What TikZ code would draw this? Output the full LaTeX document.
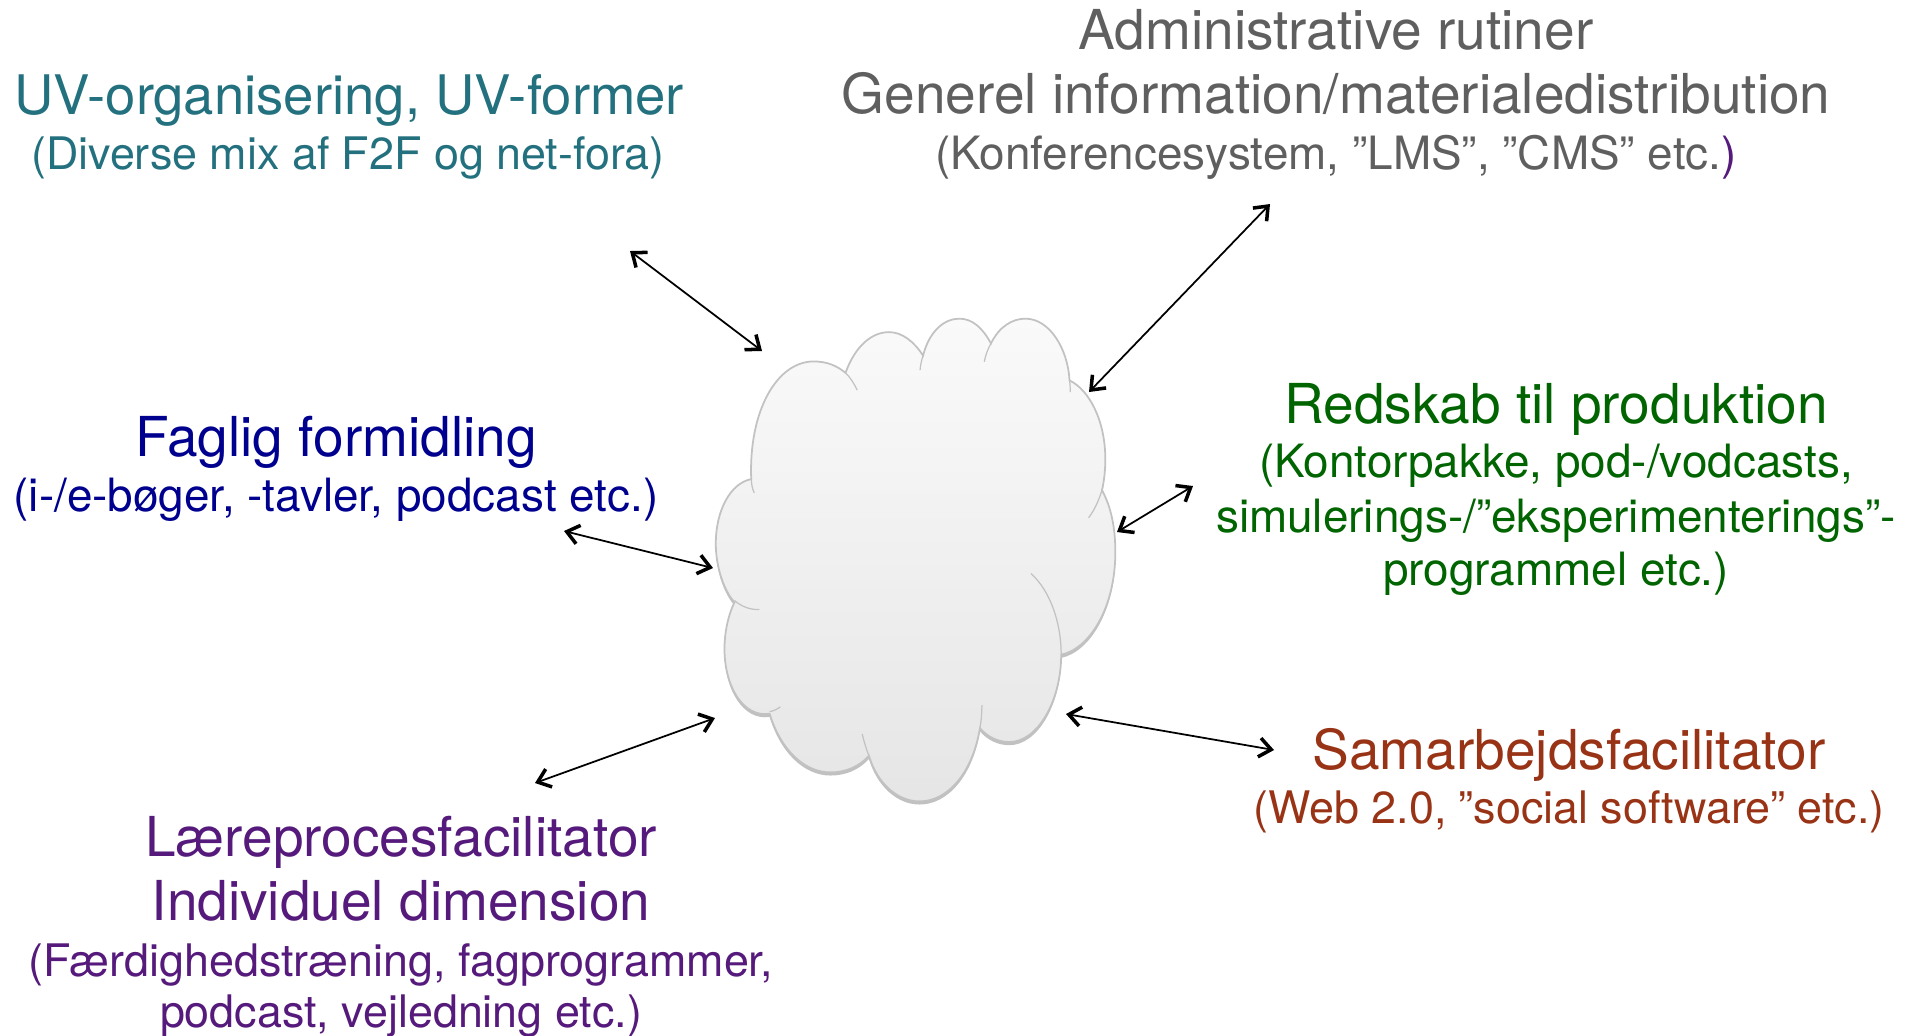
\documentclass[tikz,border=0pt]{standalone}
\usepackage{fontspec}
\setmainfont{TeX Gyre Heros}
\usetikzlibrary{arrows.meta,shadows}
\definecolor{uvcol}{HTML}{23707F}
\definecolor{admcol}{HTML}{5F5F5F}
\definecolor{fagcol}{HTML}{00008F}
\definecolor{redcol}{HTML}{006400}
\definecolor{samcol}{HTML}{993316}
\definecolor{laecol}{HTML}{551A7B}
\tikzset{
    head/.style={inner sep=0pt, font=\fontsize{15.65}{17}\selectfont},
    sub/.style={inner sep=0pt, font=\fontsize{13.05}{15}\selectfont},
    subnarrow/.style={inner sep=0pt, font=\fontsize{12.75}{15}\selectfont},
    link/.style={black, line width=0.5pt, <->, >={Straight Barb[length=3.4pt,width=5.4pt,line width=1pt]}},
    lobe/.style={draw=black!24, line width=0.35pt}
}

\begin{document}
\begin{tikzpicture}[x=0.01cm, y=-0.01cm]
    \useasboundingbox (0,0) rectangle (1919,1035);

    \begin{scope}[shift={(680,290)}, x=0.003345cm, y=-0.003456cm]
        \draw[draw=black!24, line width=0.5pt, top color=black!2, bottom color=black!10,
              drop shadow={shadow xshift=0pt, shadow yshift=-0.9pt, opacity=0.35, fill=black!70}]
            (213,548) .. controls (205,350) and (290,207) .. (400,207)
            .. controls (440,207) and (470,220) .. (495,240)
            .. controls (525,160) and (575,122) .. (625,122)
            .. controls (665,122) and (700,150) .. (727,190)
            .. controls (745,120) and (790,83) .. (835,83)
            .. controls (875,83) and (905,110) .. (930,155)
            .. controls (955,105) and (995,83) .. (1033,83)
            .. controls (1105,83) and (1160,170) .. (1165,262)
            .. controls (1225,290) and (1272,380) .. (1272,490)
            .. controls (1272,525) and (1268,555) .. (1262,580)
            .. controls (1290,630) and (1302,690) .. (1302,760)
            .. controls (1302,920) and (1225,1040) .. (1140,1057)
            .. controls (1140,1190) and (1070,1310) .. (985,1310)
            .. controls (950,1310) and (920,1295) .. (897,1270)
            .. controls (875,1400) and (800,1482) .. (717,1482)
            .. controls (650,1482) and (590,1430) .. (565,1350)
            .. controls (535,1382) and (495,1398) .. (450,1398)
            .. controls (370,1398) and (300,1330) .. (268,1228)
            .. controls (190,1240) and (133,1150) .. (133,1040)
            .. controls (133,990) and (145,940) .. (163,905)
            .. controls (130,870) and (107,800) .. (107,735)
            .. controls (107,640) and (150,560) .. (213,548) -- cycle;

        \draw[lobe] (213,548) .. controls (214,565) and (217,578) .. (222,588);
        \draw[lobe] (495,240) .. controls (508,252) and (520,270) .. (530,290);
        \draw[lobe] (727,190) .. controls (722,205) and (719,218) .. (718,232);
        \draw[lobe] (930,155) .. controls (921,170) and (914,188) .. (910,208);
        \draw[lobe] (1165,262) .. controls (1167,275) and (1167,285) .. (1167,296);
        \draw[lobe] (1262,580) .. controls (1252,612) and (1238,640) .. (1222,660);
        \draw[lobe] (1050,822) .. controls (1105,870) and (1140,960) .. (1140,1057);
        \draw[lobe] (897,1270) .. controls (901,1248) and (903,1225) .. (903,1203);
        \draw[lobe] (565,1350) .. controls (557,1330) and (550,1308) .. (545,1287);
        \draw[lobe] (268,1222) .. controls (280,1220) and (290,1215) .. (300,1208);
        \draw[lobe] (163,900) .. controls (185,918) and (210,927) .. (237,926);
    \end{scope}

    \coordinate (A1) at (630,251);
    \coordinate (A2) at (762,351);
    \coordinate (B1) at (1270,204);
    \coordinate (B2) at (1089,392);
    \coordinate (C1) at (1193,486);
    \coordinate (C2) at (1117,532);
    \coordinate (D1) at (564,531);
    \coordinate (D2) at (713,568);
    \coordinate (E1) at (715,718);
    \coordinate (E2) at (535,783);
    \coordinate (F1) at (1066,714);
    \coordinate (F2) at (1274,750);

    \draw[link] (A1) -- (A2);
    \draw[link] (B1) -- (B2);
    \draw[link] (C1) -- (C2);
    \draw[link] (D1) -- (D2);
    \draw[link] (E1) -- (E2);
    \draw[link] (F1) -- (F2);

    \node[head, text=uvcol, font=\fontsize{15.5}{17}\selectfont] (uv1) at (349,100) {UV-organisering, UV-former};
    \node[subnarrow, text=uvcol] (uv2) at (348,158) {(Diverse mix af F2F og net-fora)};

    \node[head, text=admcol] (adm1) at (1336,30) {Administrative rutiner};
    \node[head, text=admcol] (adm2) at (1336,93) {Generel information/materialedistribution};
    \node[sub, text=admcol] (adm3) at (1336,157) {(Konferencesystem, ”LMS”, ”CMS” etc.\textcolor{laecol}{)}};

    \node[head, text=fagcol] (fag1) at (336,442) {Faglig formidling};
    \node[sub, text=fagcol] (fag2) at (336,500) {(i-/e-bøger, -tavler, podcast etc.)};

    \node[head, text=redcol] (red1) at (1556,409) {Redskab til produktion};
    \node[sub, text=redcol] (red2) at (1556,466) {(Kontorpakke, pod-/vodcasts,};
    \node[sub, text=redcol] (red3) at (1556,521) {simulerings-/”eksperimenterings”-};
    \node[sub, text=redcol] (red4) at (1556,574) {programmel etc.)};

    \node[head, text=samcol] (sam1) at (1569,755) {Samarbejdsfacilitator};
    \node[subnarrow, text=samcol] (sam2) at (1569,812) {(Web 2.0, ”social software” etc.)};

    \node[head, text=laecol] (lae1) at (401,842) {Læreprocesfacilitator};
    \node[head, text=laecol] (lae2) at (401,901) {Individuel dimension};
    \node[subnarrow, text=laecol] (lae3) at (401,965) {(Færdighedstræning, fagprogrammer,};
    \node[subnarrow, text=laecol] (lae4) at (401,1016) {podcast, vejledning etc.)};
\end{tikzpicture}
\end{document}
